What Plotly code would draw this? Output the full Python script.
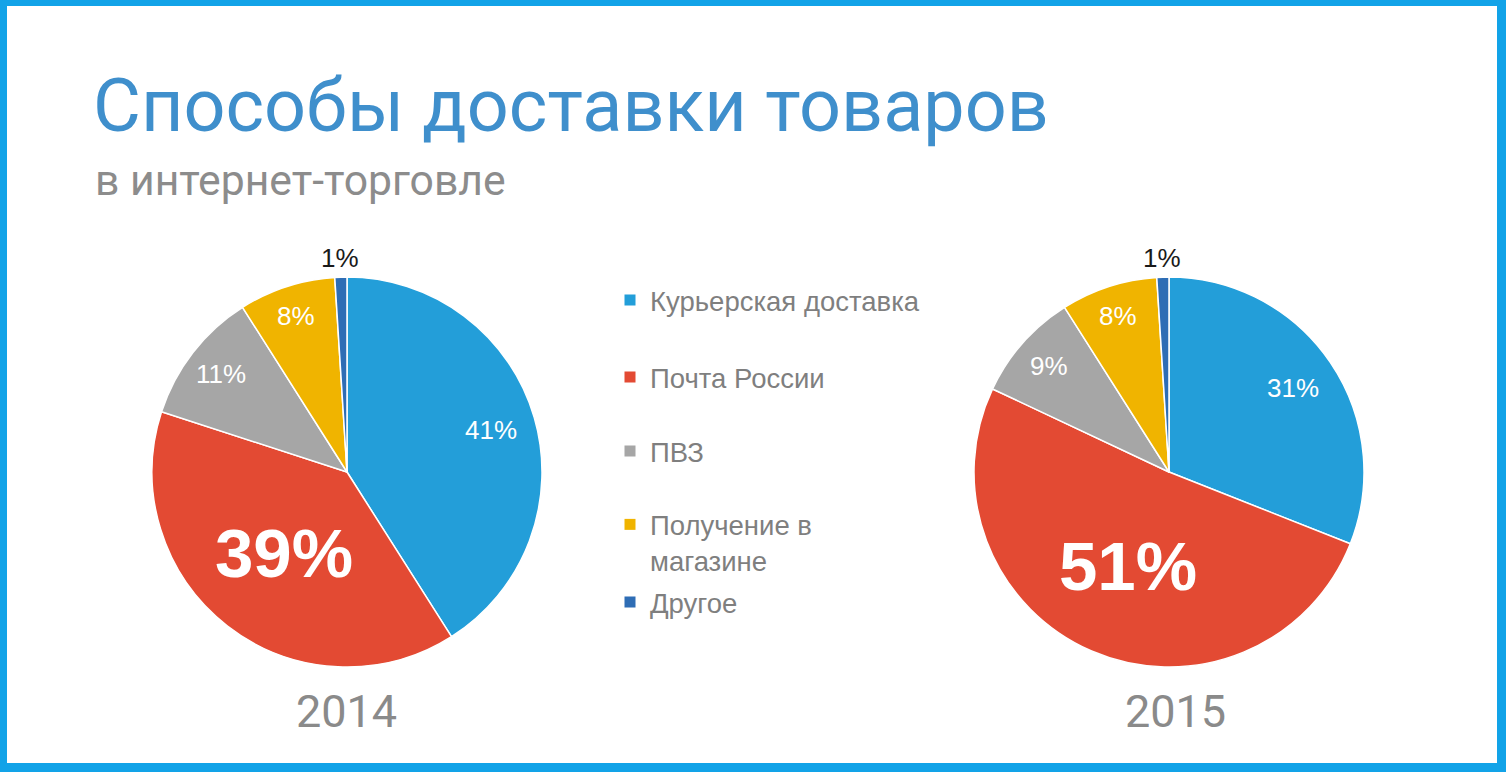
import math
import plotly.graph_objects as go

W, H = 1506, 772

labels = ["Курьерская доставка", "Почта России", "ПВЗ", "Получение в<br>магазине", "Другое"]
colors = ["#239ed9", "#e34a33", "#a6a6a6", "#f0b400", "#2e6db5"]
values_2014 = [41, 39, 11, 8, 1]
values_2015 = [31, 51, 9, 8, 1]
years = ["2014", "2015"]
title_text = "Способы доставки товаров"
subtitle_text = "в интернет-торговле"

# style: radial position of each slice label (fraction of radius)
label_radius = [0.77, 0.53, 0.82, 0.84, 1.10]
label_size = [26, 69, 26, 26, 26]
label_color = ["#ffffff", "#ffffff", "#ffffff", "#ffffff", "#1a1a1a"]


def px_x(v):
    return v / W


def px_y(v):
    return 1 - v / H


# pie geometry (pixels)
pies = [dict(cx=347, cy=472, r=195), dict(cx=1169, cy=472, r=195)]


def pie_trace(values, g):
    return go.Pie(
        labels=labels,
        values=values,
        sort=False,
        direction="clockwise",
        rotation=0,
        marker=dict(colors=colors, line=dict(color="#ffffff", width=1.5)),
        textinfo="none",
        domain=dict(x=[px_x(g["cx"] - g["r"]), px_x(g["cx"] + g["r"])],
                    y=[px_y(g["cy"] + g["r"]), px_y(g["cy"] - g["r"])]),
        showlegend=False,
        hoverinfo="label+percent",
    )


def slice_labels(values, g):
    anns = []
    total = sum(values)
    cum = 0
    for i, v in enumerate(values):
        mid = 2 * math.pi * (cum + v / 2) / total
        cum += v
        f = label_radius[i]
        x = g["cx"] + f * g["r"] * math.sin(mid)
        y = g["cy"] - f * g["r"] * math.cos(mid)
        txt = f"<b>{v}%</b>" if i == 1 else f"{v}%"
        anns.append(dict(text=txt, x=px_x(x), y=px_y(y), xref="paper", yref="paper",
                         xanchor="center", yanchor="middle", showarrow=False,
                         font=dict(family="Liberation Sans, Arial", size=label_size[i],
                                   color=label_color[i])))
    return anns


fig = go.Figure()
fig.add_trace(pie_trace(values_2014, pies[0]))
fig.add_trace(pie_trace(values_2015, pies[1]))

# legend entries (one legend per entry to reproduce the spacing)
legend_y = [300, 377, 451, 526, 602]
legend_names = ["legend", "legend2", "legend3", "legend4", "legend5"]
for i, (lab, col) in enumerate(zip(labels, colors)):
    fig.add_trace(go.Scatter(
        x=[None], y=[None], mode="markers", name=lab,
        marker=dict(symbol="square", size=11, color=col),
        legend=legend_names[i], showlegend=True, hoverinfo="skip",
    ))

legend_common = dict(
    font=dict(family="Liberation Sans, Arial", size=27.5, color="#7f7f7f"),
    bgcolor="rgba(0,0,0,0)", xanchor="left", x=px_x(610),
    itemclick=False, itemdoubleclick=False,
)
layout_legends = {}
for i, name in enumerate(legend_names):
    d = dict(legend_common)
    if i == 3:
        d.update(y=px_y(legend_y[i] - 26), yanchor="top", valign="top")
    else:
        d.update(y=px_y(legend_y[i]), yanchor="middle")
    layout_legends[name] = d

annotations = [
    dict(text=title_text, x=px_x(91), y=px_y(106), xref="paper", yref="paper",
         xanchor="left", yanchor="middle", showarrow=False,
         font=dict(family="Roboto", size=73.7, color="#3f8fcc")),
    dict(text=subtitle_text, x=px_x(93), y=px_y(180), xref="paper", yref="paper",
         xanchor="left", yanchor="middle", showarrow=False,
         font=dict(family="Roboto", size=42.7, color="#8c8c8c")),
    dict(text=years[0], x=px_x(346), y=px_y(711), xref="paper", yref="paper",
         xanchor="center", yanchor="middle", showarrow=False,
         font=dict(family="Roboto", size=45, color="#8a8a8a")),
    dict(text=years[1], x=px_x(1175), y=px_y(711), xref="paper", yref="paper",
         xanchor="center", yanchor="middle", showarrow=False,
         font=dict(family="Roboto", size=45, color="#8a8a8a")),
]
annotations += slice_labels(values_2014, pies[0])
annotations += slice_labels(values_2015, pies[1])

shapes = [
    dict(type="rect", xref="paper", yref="paper", layer="below",
         x0=px_x(7), x1=px_x(1497), y0=px_y(763), y1=px_y(6),
         fillcolor="#ffffff", line=dict(width=0)),
]

fig.update_layout(
    width=W, height=H,
    margin=dict(l=0, r=0, t=0, b=0),
    paper_bgcolor="#12a3e8",
    plot_bgcolor="rgba(0,0,0,0)",
    xaxis=dict(visible=False), yaxis=dict(visible=False),
    annotations=annotations,
    shapes=shapes,
    **layout_legends,
)

fig.write_html("out.html")
